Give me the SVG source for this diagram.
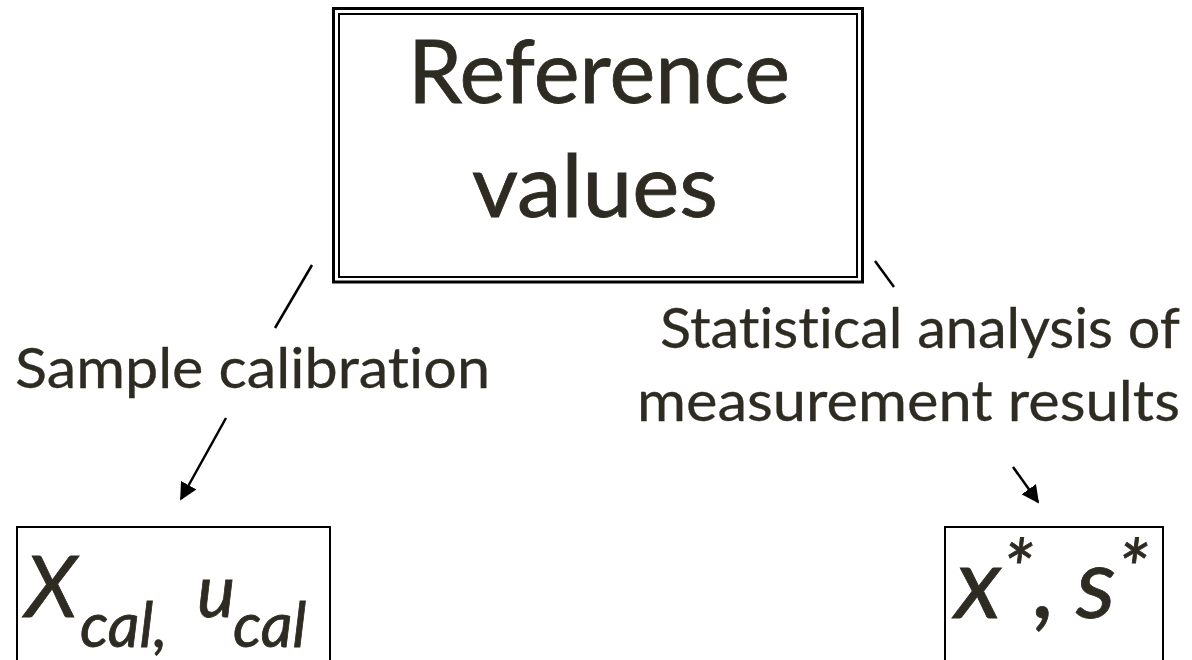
<svg xmlns="http://www.w3.org/2000/svg" width="1192" height="660" viewBox="0 0 1192 660">
<style>
.t{font-family:Lato,"Open Sans","Liberation Sans",sans-serif;fill:#2e2b22;stroke:#2e2b22;stroke-width:0.8;font-variant-ligatures:none}
.s{stroke-width:0.3}
.i{font-style:italic}
.box{fill:none;stroke:#000}
.ln{fill:none;stroke:#000;stroke-width:2.5}
</style>
<defs>
<marker id="ah" viewBox="0 0 10 10" refX="9" refY="5" markerWidth="7" markerHeight="7" markerUnits="strokeWidth" orient="auto">
<path d="M0,0 L10,5 L0,10 z" fill="#000"/>
</marker>
</defs>
<rect width="1192" height="660" fill="#fff"/>
<g id="reference">
<rect class="box" x="333.5" y="8.5" width="529" height="273.5" stroke-width="3"/>
<rect class="box" x="339" y="14" width="518" height="263" stroke-width="2"/>
<text class="t" x="599" y="103" font-size="88" text-anchor="middle" textLength="382" lengthAdjust="spacingAndGlyphs">Reference</text>
<text class="t" x="595" y="217" font-size="88" text-anchor="middle" textLength="246" lengthAdjust="spacingAndGlyphs">values</text>
</g>
<g id="label-left">
<text class="t s" x="15" y="388" font-size="57" textLength="475" lengthAdjust="spacingAndGlyphs">Sample calibration</text>
</g>
<g id="label-right">
<text class="t s" x="660" y="348" font-size="57" textLength="520" lengthAdjust="spacingAndGlyphs">Statistical analysis of</text>
<text class="t s" x="637" y="421" font-size="57" textLength="543" lengthAdjust="spacingAndGlyphs">measurement results</text>
</g>
<g id="cal">
<rect class="box" x="17" y="527" width="313" height="150" stroke-width="2"/>
<text class="t i" x="25" y="617" font-size="86">X</text>
<text class="t i" x="80" y="647" font-size="62">cal,</text>
<text class="t i" x="197" y="617" font-size="72">u</text>
<text class="t i" x="233" y="647" font-size="62">cal</text>
</g>
<g id="stat">
<rect class="box" x="945" y="527" width="218" height="150" stroke-width="2"/>
<text class="t i" x="955" y="618" font-size="100">x</text>
<text class="t i" x="1002" y="598" font-size="80">*</text>
<text class="t i" x="1034" y="618" font-size="100">,</text>
<text class="t i" x="1076" y="618" font-size="100">s</text>
<text class="t i" x="1117" y="598" font-size="80">*</text>
</g>
<g id="connectors">
<line class="ln" x1="312" y1="265" x2="275" y2="328"/>
<line class="ln" x1="226" y1="418" x2="181" y2="499" marker-end="url(#ah)"/>
<line class="ln" x1="875" y1="261" x2="894" y2="287"/>
<line class="ln" x1="1013" y1="467" x2="1038" y2="502" marker-end="url(#ah)"/>
</g>
</svg>
